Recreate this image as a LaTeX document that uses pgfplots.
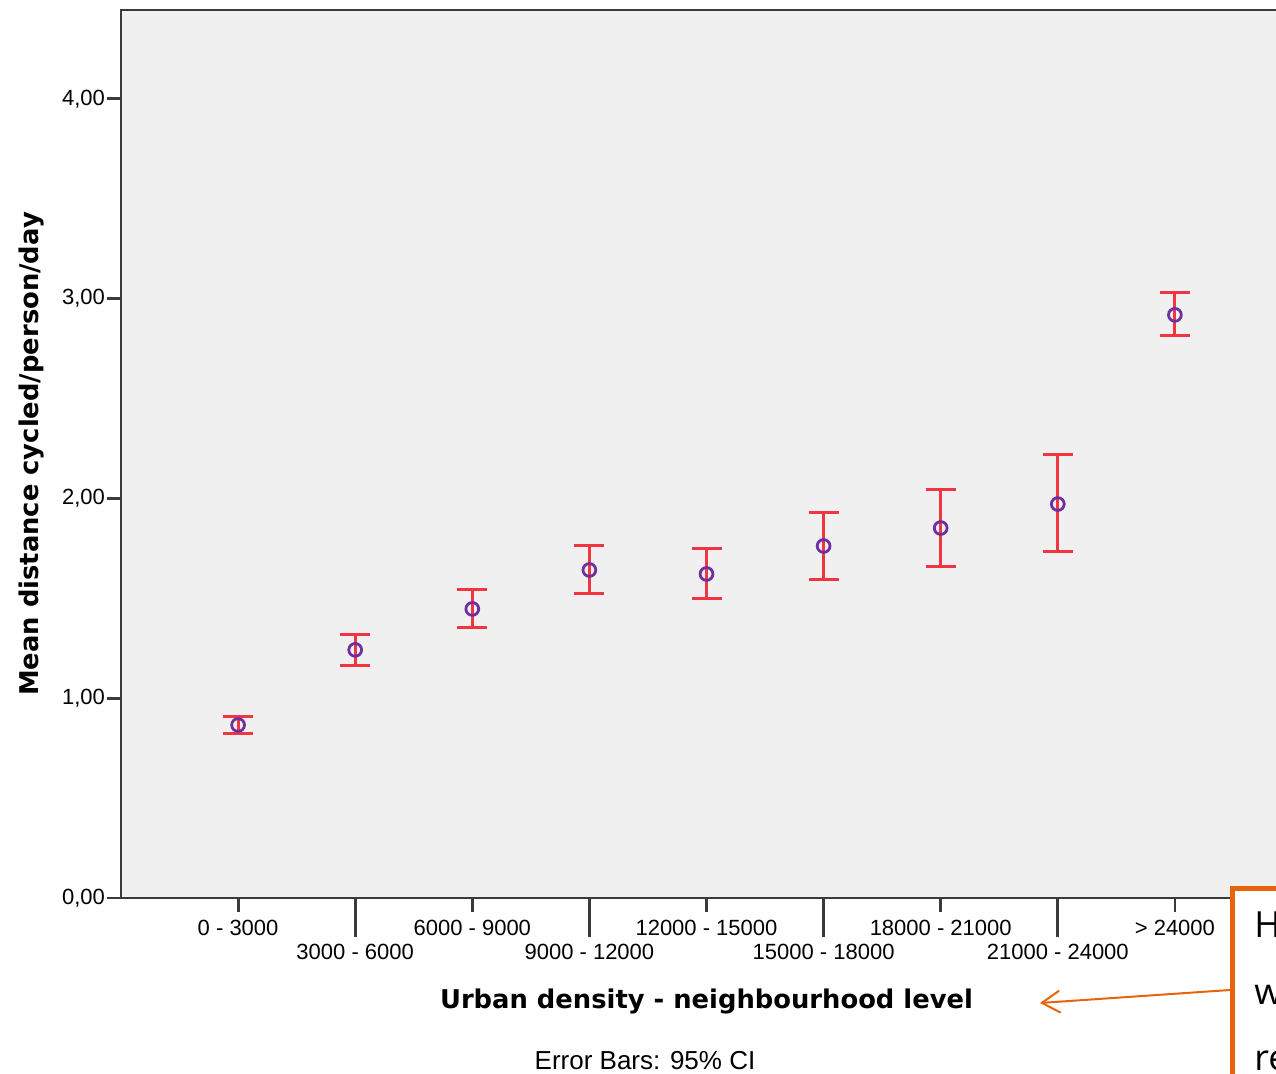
\documentclass[border=0pt]{standalone}
\usepackage{pgfplots}
\pgfplotsset{compat=1.18}
\usepackage{pgfplotstable}
\usepackage{fontspec}
\setmainfont{Liberation Sans}
\newfontfamily\labfont{DejaVu Sans}
\newfontfamily\notefont{Open Sans}
\usetikzlibrary{arrows.meta}

\definecolor{plotbg}{HTML}{F0F0F0}
\definecolor{axiscol}{HTML}{3A3A3A}
\definecolor{ered}{RGB}{240,55,65}
\definecolor{mpurple}{RGB}{110,48,160}
\definecolor{orng}{RGB}{232,100,12}

% mean distance per density class with 95% CI (upper / lower half-widths)
\pgfplotstableread{
x  y      ep     em
1  0.866  0.045  0.045
2  1.242  0.075  0.076
3  1.447  0.095  0.095
4  1.642  0.120  0.120
5  1.622  0.125  0.125
6  1.762  0.170  0.170
7  1.852  0.191  0.195
8  1.972  0.246  0.240
9  2.919  0.110  0.105
}\cidata

\begin{document}
\begin{tikzpicture}
\begin{axis}[
  at={(60.5pt,-449pt)}, anchor=south west,
  scale only axis, width=585.5pt, height=444pt,
  xmin=0, xmax=10, ymin=0, ymax=4.445,
  axis background/.style={fill=plotbg},
  axis line style={axiscol, line width=1.4pt},
  every tick/.style={axiscol, line width=1.4pt},
  tick align=outside, major tick length=7pt,
  xtick pos=lower, ytick pos=left,
  xtick={1,3,5,7,9},
  xticklabels={0 - 3000, 6000 - 9000, 12000 - 15000, 18000 - 21000, > 24000},
  extra x ticks={2,4,6,8},
  extra x tick labels={3000 - 6000, 9000 - 12000, 15000 - 18000, 21000 - 24000},
  xticklabel style={anchor=base, yshift=-12pt},
  extra x tick style={major tick length=19.5pt,
    xticklabel style={yshift=0.5pt}},
  ytick={0,1,2,3,4},
  yticklabel style={xshift=2.5pt, /pgf/number format/.cd, fixed, fixed zerofill, precision=2, use comma, assume math mode=true},
  ticklabel style={font=\fontsize{11}{13}\selectfont, text=black},
  xlabel={Urban density - neighbourhood level},
  xlabel style={at={(axis description cs:0.5,-0.125)}, anchor=base,
    font=\labfont\bfseries\fontsize{12.9}{15}\selectfont},
  ylabel={Mean distance cycled/person/day},
  ylabel style={at={(axis description cs:-0.0765,0.5)}, anchor=center,
    font=\labfont\bfseries\fontsize{12.9}{15}\selectfont},
]
\addplot[only marks, mark=o, mark size=3.2pt,
  mark options={draw=mpurple, line width=1.4pt},
  error bars/.cd, y dir=both, y explicit,
  error bar style={ered, line width=1.5pt},
  error mark options={ered, line width=1.5pt, mark size=7.5pt, rotate=90}]
  table[x=x, y=y, y error plus=ep, y error minus=em] {\cidata};
\end{axis}

% footnote under the chart
\node[anchor=base, font=\fontsize{13}{15}\selectfont] at (322.5pt,-535pt) {Error Bars: 95\% CI};

% comment callout at the lower right
\draw[orng, line width=2.5pt, fill=white] (616pt,-444.5pt) rectangle (700pt,-600pt);
\node[anchor=base west, inner sep=0pt, font=\notefont\fontsize{18}{20}\selectfont] at (627pt,-469pt) {H};
\node[anchor=base west, inner sep=0pt, font=\notefont\fontsize{18}{20}\selectfont] at (627pt,-502.5pt) {w};
\node[anchor=base west, inner sep=0pt, font=\notefont\fontsize{18}{20}\selectfont] at (627pt,-535.5pt) {re};
\draw[orng, line width=1pt, -{Straight Barb[length=9pt, width=11pt]}] (615pt,-495pt) -- (520pt,-501.5pt);

\pgfresetboundingbox
\path[use as bounding box] (0,0) rectangle (638pt,-537pt);
\end{tikzpicture}
\end{document}
